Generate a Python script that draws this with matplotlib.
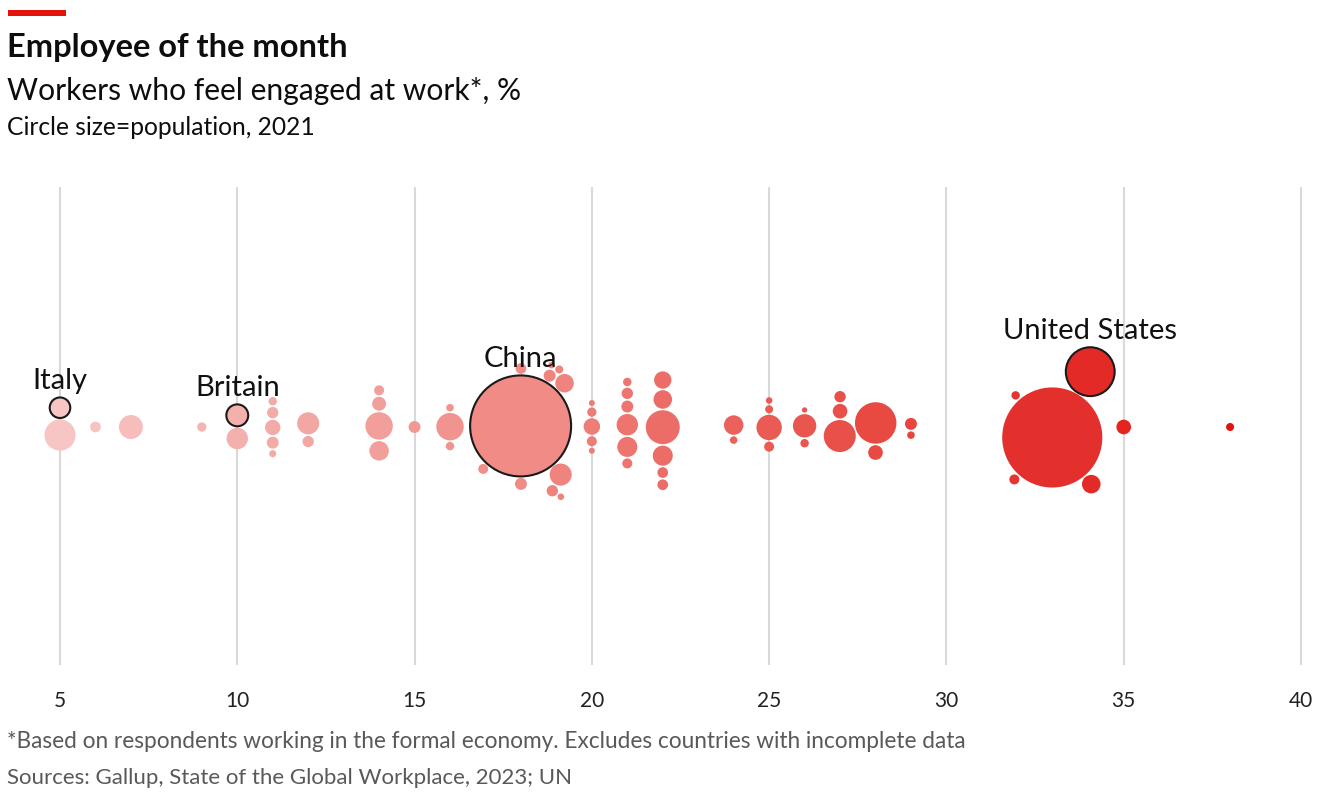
"""Bubble beeswarm: workers who feel engaged at work, circle size = population."""

import numpy as np
import matplotlib
matplotlib.use("Agg")
import matplotlib.pyplot as plt
from matplotlib.colors import LinearSegmentedColormap

# ---- data -------------------------------------------------------------
# highlighted countries (engaged %, population in millions)
label_names = ["Italy", "Britain", "China", "United States"]
label_engaged = [5, 10, 18, 34]
label_population = [59, 67, 1425, 333]

# all other countries
other_engaged = [5, 6, 7, 9, 10, 11, 11, 11, 11, 11, 12, 12, 14, 14, 14, 14, 15,
                 16, 16, 16, 17, 18, 18, 19, 19, 19, 19, 19, 19, 19,
                 20, 20, 20, 20, 20, 21, 21, 21, 21, 21, 21,
                 22, 22, 22, 22, 22, 22, 24, 24, 25, 25, 25, 25, 26, 26, 26,
                 27, 27, 27, 28, 28, 29, 29, 32, 32, 33, 34, 35, 38]
other_population = [135, 16, 80, 12, 64, 7, 20, 10, 33, 18, 18, 68, 27, 53, 14, 105, 20,
                    10, 105, 8, 14, 16, 20, 48, 9, 6, 6, 18, 68, 20,
                    5, 12, 38, 5, 14, 20, 10, 18, 64, 56, 14,
                    42, 161, 16, 56, 48, 16, 53, 8, 90, 6, 14, 9, 76, 4, 10,
                    143, 18, 30, 30, 240, 8, 20, 10, 14, 1400, 48, 30, 9]

x_ticks = [5, 10, 15, 20, 25, 30, 35, 40]

title = "Employee of the month"
subtitle = "Workers who feel engaged at work*, %"
size_note = "Circle size=population, 2021"
footnote = "*Based on respondents working in the formal economy. Excludes countries with incomplete data"
source = "Sources: Gallup, State of the Global Workplace, 2023; UN"

# ---- style ------------------------------------------------------------
plt.rcParams["font.family"] = ["Lato", "DejaVu Sans"]
W, H, DPI = 1320, 794, 100
MAX_R = 50.5          # radius in pixels of the largest population
PAD = 1.5             # gap between circles, pixels
XLIM = (3.308, 40.536)
AX_TOP, AX_BOT = 187, 665

cmap = LinearSegmentedColormap.from_list(
    "econ", [(0.0, "#f7c6c4"), (0.39, "#f08c87"), (0.52, "#ec6b66"),
             (0.70, "#e84a42"), (0.85, "#e3302c"), (1.0, "#e3120b")])


def swarm(xp, rp, order, prefer_up, pad=PAD):
    """Greedy beeswarm: put each circle at the y nearest 0 that does not overlap."""
    ys = np.zeros(len(xp))
    placed = []
    for i in order:
        cands = [0.0]
        for j in placed:
            dx = xp[i] - xp[j]
            d = rp[i] + rp[j] + pad
            if abs(dx) < d:
                h = np.sqrt(d * d - dx * dx)
                cands += [ys[j] + h, ys[j] - h]
        sign = -1 if prefer_up[i] else 1
        cands.sort(key=lambda y: (round(abs(y), 6), sign * y))
        for y in cands:
            if all((xp[i] - xp[j]) ** 2 + (y - ys[j]) ** 2
                   >= (rp[i] + rp[j] + pad) ** 2 - 1e-6 for j in placed):
                ys[i] = y
                break
        placed.append(i)
    return ys


def relax(tx, y0, r, n_iter=300, kx=0.8, ky=0.05, pad=PAD):
    """Small force simulation (x pull, centre pull, collide) started from the swarm."""
    x, y = tx.copy(), y0.copy()
    vx, vy = np.zeros_like(x), np.zeros_like(y)
    alpha = 1.0
    decay = 1 - 0.001 ** (1 / n_iter)
    rr = r[:, None] + r[None, :] + pad
    share = r[None, :] ** 2 / (r[:, None] ** 2 + r[None, :] ** 2)
    for _ in range(n_iter):
        alpha -= alpha * decay
        vx += (tx - x) * kx * alpha
        vy += -y * ky * alpha
        for _ in range(2):
            dx = (x + vx)[:, None] - (x + vx)[None, :]
            dy = (y + vy)[:, None] - (y + vy)[None, :]
            dist = np.hypot(dx, dy)
            np.fill_diagonal(dist, np.inf)
            push = np.where(dist < rr, (rr - dist) / dist, 0.0) * 0.7 * share
            vx += (dx * push).sum(axis=1)
            vy += (dy * push).sum(axis=1)
        vx *= 0.6
        vy *= 0.6
        x += vx
        y += vy
    return x, y


engaged = np.array(label_engaged + other_engaged, dtype=float)
population = np.array(label_population + other_population, dtype=float)
n_lab = len(label_names)
is_label = np.arange(len(engaged)) < n_lab

px_per_unit = W / (XLIM[1] - XLIM[0])
radius = MAX_R * np.sqrt(population / population.max())

# biggest first; labelled circles (bar the anchor) last so they sit on top
by_size = list(np.argsort(-radius, kind="stable"))
order = [by_size[0]] + [i for i in by_size[1:] if not is_label[i]] + \
        [i for i in by_size[1:] if is_label[i]]
xp = engaged * px_per_unit
ys = swarm(xp, radius, order, is_label)
xs, ys = relax(xp, ys, radius)
xs = xs / px_per_unit

fig = plt.figure(figsize=(W / DPI, H / DPI), dpi=DPI)
ax = fig.add_axes([0, 1 - AX_BOT / H, 1, (AX_BOT - AX_TOP) / H])
half = (AX_BOT - AX_TOP) / 2
ax.set_xlim(*XLIM)
ax.set_ylim(-half + 1, half + 1)

for t in x_ticks:
    ax.axvline(t, color="#d9d9d9", lw=1.5, zorder=0)

size_pt = (2 * radius * 72 / DPI) ** 2
colors = cmap((engaged - 5) / (38 - 5))
others = [i for i in np.argsort(-radius) if not is_label[i]]
ax.scatter(xs[others], ys[others], s=size_pt[others], c=colors[others],
           linewidths=0, zorder=2)
ax.scatter(xs[:n_lab], ys[:n_lab], s=size_pt[:n_lab], c=colors[:n_lab],
           edgecolors="#1a1a1a", linewidths=1.5, zorder=3)

for i, name in enumerate(label_names):
    ax.annotate(name, (xs[i], ys[i]), xytext=(0, radius[i] * 0.72 + 6),
                textcoords="offset points", ha="center", va="baseline",
                fontsize=21, color="#111111", zorder=4)

ax.set_xticks(x_ticks)
ax.set_xticklabels([str(t) for t in x_ticks])
ax.tick_params(axis="x", length=0, pad=19, labelsize=15, labelcolor="#222222")
ax.set_yticks([])
for s in ax.spines.values():
    s.set_visible(False)

# ---- header / footer ---------------------------------------------------
fig.add_artist(plt.Rectangle((8 / W, 1 - 16 / H), 58 / W, 6 / H,
                             transform=fig.transFigure, color="#e3120b", lw=0))
fig.text(7 / W, 1 - 57 / H, title, fontsize=23.5, fontweight="bold",
         color="#0d0d0d", va="baseline")
fig.text(7 / W, 1 - 100 / H, subtitle, fontsize=21.6, color="#0d0d0d", va="baseline")
fig.text(7 / W, 1 - 135 / H, size_note, fontsize=17.7, color="#0d0d0d", va="baseline")
fig.text(7 / W, 1 - 748 / H, footnote, fontsize=16.3, color="#595959", va="baseline")
fig.text(7 / W, 1 - 784 / H, source, fontsize=16, color="#595959", va="baseline")

fig.savefig("out.png", dpi=DPI)
plt.close(fig)
